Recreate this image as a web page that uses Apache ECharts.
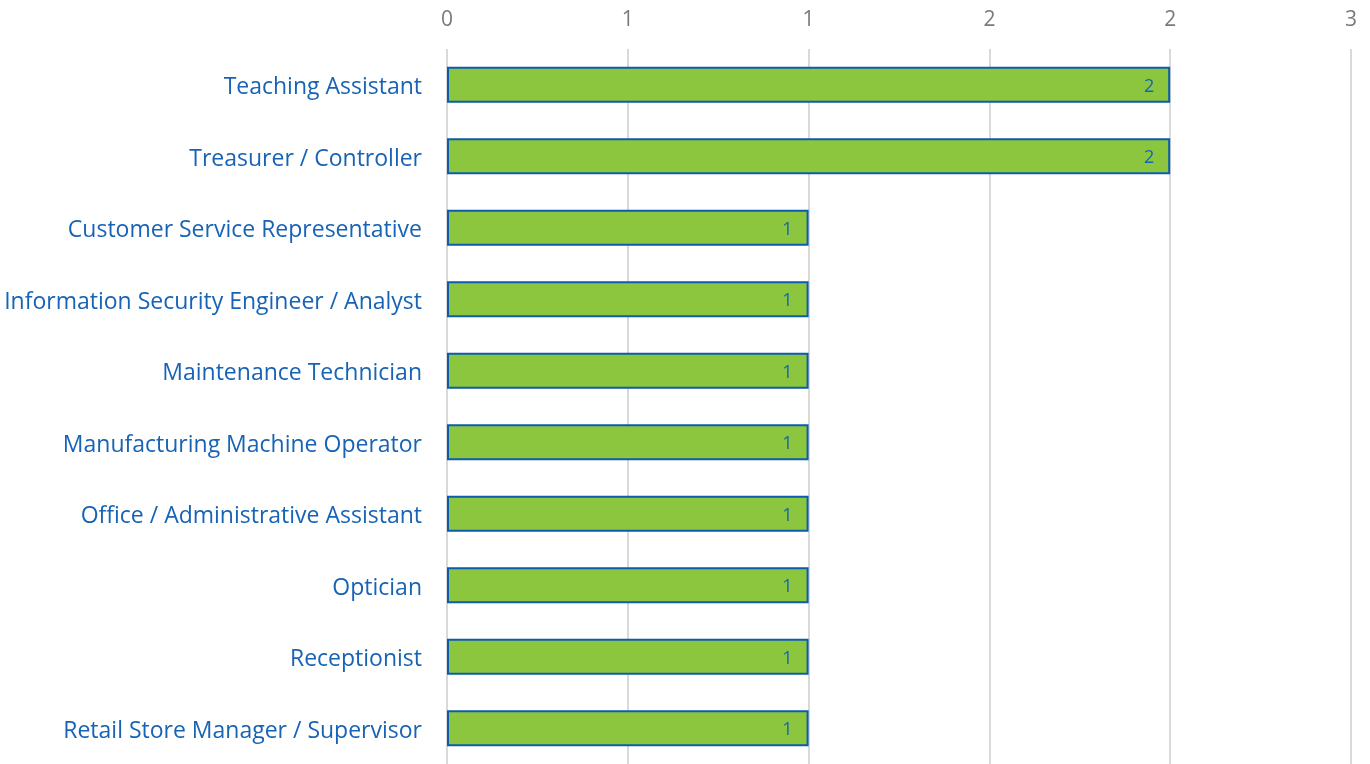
<!DOCTYPE html>
<html>
<head>
<meta charset="utf-8">
<script src="https://cdn.jsdelivr.net/npm/echarts@6/dist/echarts.min.js"></script>
<style>
  html, body { margin: 0; padding: 0; background: #fff; }
  #chart { width: 1370px; height: 764px; }
</style>
</head>
<body>
<div id="chart"></div>
<script>
const categories = [
  "Teaching Assistant",
  "Treasurer / Controller",
  "Customer Service Representative",
  "Information Security Engineer / Analyst",
  "Maintenance Technician",
  "Manufacturing Machine Operator",
  "Office / Administrative Assistant",
  "Optician",
  "Receptionist",
  "Retail Store Manager / Supervisor"
];
const counts = [2, 2, 1, 1, 1, 1, 1, 1, 1, 1];
const tickStep = 0.5;
const axisMax = 2.5;

const myChart = echarts.init(document.getElementById("chart"));
myChart.setOption({
  animation: false,
  textStyle: { fontFamily: "Open Sans" },
  grid: {
    left: 447,
    right: 19,
    top: 49,
    bottom: 0,
    containLabel: false
  },
  xAxis: {
    type: "value",
    position: "top",
    min: 0,
    max: axisMax,
    interval: tickStep,
    axisLine: { show: false },
    axisTick: { show: false },
    axisLabel: {
      color: "#7a7a7a",
      fontSize: 21,
      margin: 18,
      formatter: v => Math.round(v)
    },
    splitLine: { lineStyle: { color: "#d9d9d9", width: 2 } }
  },
  yAxis: {
    type: "category",
    inverse: true,
    data: categories,
    axisLine: { show: false },
    axisTick: { show: false },
    axisLabel: {
      margin: 25,
      formatter: v => "{c|" + v + "}",
      rich: {
        c: {
          color: "#1763b5",
          fontSize: 23,
          fontFamily: "Open Sans",
          padding: [6, 0, 0, 0]
        }
      }
    }
  },
  series: [
    {
      type: "bar",
      data: counts,
      barWidth: 36,
      itemStyle: {
        color: "#8cc63f",
        borderColor: "#0b5cad",
        borderWidth: 2
      },
      label: {
        show: true,
        position: "insideRight",
        color: "#1763b5",
        fontSize: 18,
        distance: 16,
        offset: [0, 2]
      }
    }
  ]
});
</script>
</body>
</html>
